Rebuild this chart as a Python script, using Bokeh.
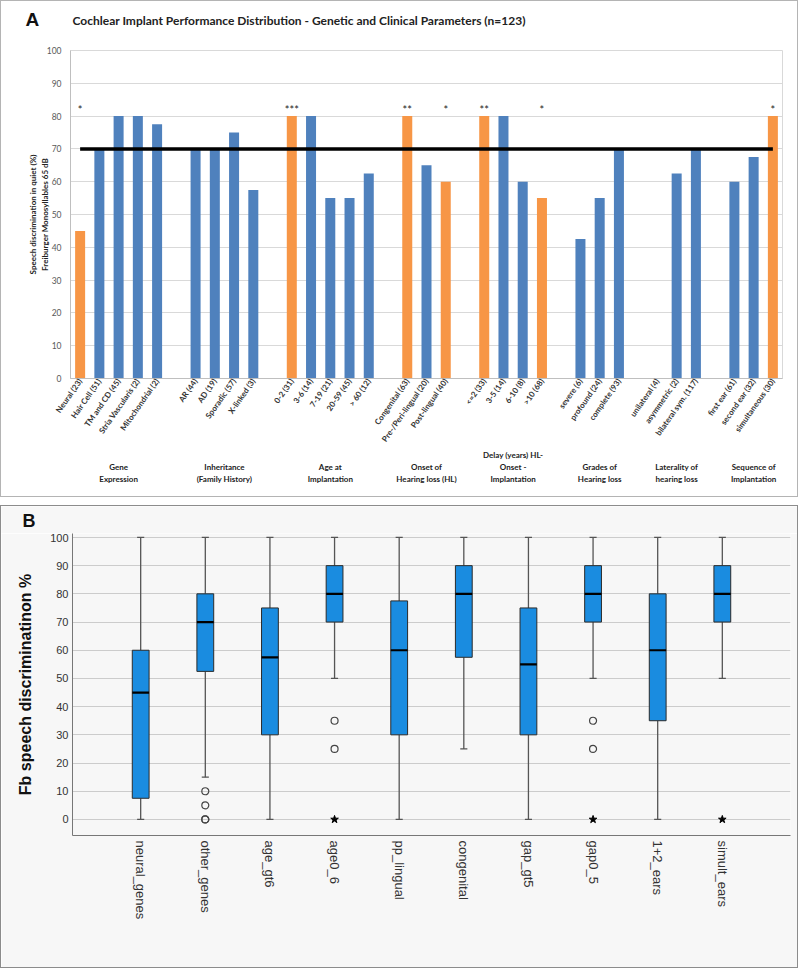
import numpy as np
from bokeh.plotting import figure
from bokeh.models import FactorRange, Range1d, FixedTicker, ColumnDataSource
from bokeh.layouts import column
from bokeh.embed import file_html
from bokeh.resources import INLINE
from bokeh.core.properties import value

# ---------------- Panel A data ----------------
a_groups = ["\nGene\nExpression"] * 5 + ["\nInheritance\n(Family History)"] * 4 + \
    ["\nAge at\nImplantation"] * 5 + ["\nOnset of\nHearing loss (HL)"] * 3 + \
    ["Delay (years) HL-\nOnset -\nImplantation"] * 4 + ["\nGrades of\nHearing loss"] * 3 + \
    ["\nLaterality of\nhearing loss"] * 3 + ["\nSequence of\nImplantation"] * 3
a_labels = ["Neural (23)", "Hair Cell (51)", "TM and CD (45)", "Stria Vascularis (2)", "Mitochondrial (2)",
            "AR (44)", "AD (19)", "Sporadic (57)", "X-linked (3)",
            "0-2 (31)", "3-6 (14)", "7-19 (21)", "20-59 (45)", "> 60 (12)",
            "Congenital (63)", "Pre-/Peri-lingual (20)", "Post-lingual (40)",
            "<=2 (33)", "3-5 (14)", "6-10 (8)", ">10 (68)",
            "severe (6)", "profound (24)", "complete (93)",
            "unilateral (4)", "asymmetric (2)", "bilateral sym. (117)",
            "first ear (61)", "second ear (32)", "simultaneous (30)"]
a_values = [45, 70, 80, 80, 77.5,
            70, 70, 75, 57.5,
            80, 80, 55, 55, 62.5,
            80, 65, 60,
            80, 80, 60, 55,
            42.5, 55, 70,
            0, 62.5, 70,
            60, 67.5, 80]
a_signif = [1, 0, 0, 0, 0,
            0, 0, 0, 0,
            1, 0, 0, 0, 0,
            1, 0, 1,
            1, 0, 0, 1,
            0, 0, 0,
            0, 0, 0,
            0, 0, 1]
a_stars = ["*", "", "", "", "",
           "", "", "", "",
           "***", "", "", "", "",
           "**", "", "*",
           "**", "", "", "*",
           "", "", "",
           "", "", "",
           "", "", "*"]
a_threshold = 70
a_star_level = 82
a_yticks = [0, 10, 20, 30, 40, 50, 60, 70, 80, 90, 100]
a_title = "Cochlear Implant Performance Distribution - Genetic and Clinical Parameters (n=123)"

# ---------------- Panel B data ----------------
b_cats = ["neural_genes", "other_genes", "age_gt6", "age0_6", "pp_lingual",
          "congenital", "gap_gt5", "gap0_5", "1+2_ears", "simult_ears"]
b_upper = [100, 100, 100, 100, 100, 100, 100, 100, 100, 100]
b_q3 = [60, 80, 75, 90, 77.5, 90, 75, 90, 80, 90]
b_median = [45, 70, 57.5, 80, 60, 80, 55, 80, 60, 80]
b_q1 = [7.5, 52.5, 30, 70, 30, 57.5, 30, 70, 35, 70]
b_lower = [0, 15, 0, 50, 0, 25, 0, 50, 0, 50]
b_out_cat = ["other_genes", "other_genes", "other_genes", "other_genes", "age0_6", "age0_6", "gap0_5", "gap0_5"]
b_out_val = [10, 5, 0, 0, 35, 25, 35, 25]
b_ext_cat = ["age0_6", "gap0_5", "simult_ears"]
b_ext_val = [0, 0, 0]
b_yticks = [0, 10, 20, 30, 40, 50, 60, 70, 80, 90, 100]

BLUE = "#4f81bd"
ORANGE = "#f79646"
INNER_W = 796


def header(height, bg):
    h = figure(width=INNER_W, height=height, x_range=Range1d(0, INNER_W), y_range=Range1d(height, 0),
               x_axis_type=None, y_axis_type=None, output_backend="svg", toolbar_location=None,
               min_border=0, frame_align=False)
    h.grid.grid_line_color = None
    h.outline_line_color = None
    h.background_fill_color = bg
    h.border_fill_color = bg
    return h


# ================= Panel A =================
hA = header(39, "white")
hA.text(x=[24], y=[18], text=["A"], text_font=value("Liberation Sans"), text_font_size="19px",
        text_font_style="bold", text_baseline="middle", text_color="#111")
hA.text(x=[71], y=[18.5], text=[a_title], text_font=value("Lato"), text_font_size="12px",
        text_font_style="bold", text_baseline="middle", text_color="#222")

factors = list(zip(a_groups, a_labels))
srcA = ColumnDataSource(dict(
    x=factors, top=a_values,
    color=[ORANGE if s else BLUE for s in a_signif],
    stars=a_stars, sy=[a_star_level] * len(factors),
    ref=[a_threshold] * len(factors)))

pA = figure(x_range=FactorRange(*factors, group_padding=1.0, range_padding=0),
            y_range=Range1d(0, 100), width=INNER_W, height=456,
            output_backend="svg", toolbar_location=None, frame_align=False,
            min_border_left=69, min_border_right=15, min_border_top=10, min_border_bottom=118)
pA.vbar(x="x", top="top", width=0.52, fill_color="color", line_color=None, source=srcA)
pA.line(x="x", y="ref", line_color="black", line_width=3.5, source=srcA)
pA.text(x="x", y="sy", text="stars", text_align="center", text_baseline="middle",
        text_font=value("Lato"), text_font_size="11px", text_color="#222", source=srcA)

pA.outline_line_color = "#d9d9d9"
pA.xgrid.grid_line_color = None
pA.ygrid.grid_line_color = "#d9d9d9"
pA.yaxis.ticker = FixedTicker(ticks=a_yticks)
pA.yaxis.major_tick_line_color = None
pA.yaxis.major_tick_out = 0
pA.yaxis.major_tick_in = 0
pA.yaxis.minor_tick_line_color = None
pA.yaxis.axis_line_color = "#bfbfbf"
pA.yaxis.major_label_standoff = 9
pA.yaxis.major_label_text_font = "Lato"
pA.yaxis.major_label_text_font_size = "8.5px"
pA.yaxis.major_label_text_color = "#595959"
pA.yaxis.axis_label = "Speech discrimination in quiet (%)\nFreiburger Monosyllables 65 dB"
pA.yaxis.axis_label_text_font = "Lato"
pA.yaxis.axis_label_text_font_size = "8px"
pA.yaxis.axis_label_text_font_style = "bold"
pA.yaxis.axis_label_text_color = "#222"
pA.yaxis.axis_label_standoff = -6

ax = pA.xaxis[0]
ax.major_label_orientation = 0.96
ax.major_label_text_font = "Lato"
ax.major_label_text_font_size = "8px"
ax.major_label_text_font_style = "bold"
ax.major_label_text_color = "#333"
ax.major_label_standoff = 1
ax.major_tick_line_color = None
ax.major_tick_out = 0
ax.major_tick_in = 0
ax.axis_line_color = "#bfbfbf"
ax.separator_line_color = None
ax.group_label_orientation = "horizontal"
ax.group_text_font = "Lato"
ax.group_text_font_size = "8px"
ax.group_text_font_style = "bold"
ax.group_text_color = "#222"
ax.group_text_line_height = 1.2

# ================= Panel B =================
hB = header(27, "#f7f7f7")
hB.text(x=[21], y=[14], text=["B"], text_font=value("Liberation Sans"), text_font_size="18px",
        text_font_style="bold", text_baseline="middle", text_color="#111")

pB = figure(x_range=FactorRange(*b_cats, range_padding=0.111),
            y_range=Range1d(-5.7, 101.4), width=INNER_W, height=434,
            output_backend="svg", toolbar_location=None, frame_align=False,
            min_border_left=71, min_border_right=7, min_border_top=0, min_border_bottom=132)
pB.background_fill_color = "#f7f7f7"
pB.border_fill_color = "#f7f7f7"
pB.outline_line_color = None

pB.segment(x0=b_cats, y0=b_q3, x1=b_cats, y1=b_upper, line_color="#555", line_width=1.3)
pB.segment(x0=b_cats, y0=b_q1, x1=b_cats, y1=b_lower, line_color="#555", line_width=1.3)
pB.vbar(x=b_cats, top=b_upper, bottom=b_upper, width=0.11, fill_color=None, line_color="#555", line_width=1.3)
pB.vbar(x=b_cats, top=b_lower, bottom=b_lower, width=0.11, fill_color=None, line_color="#555", line_width=1.3)
pB.vbar(x=b_cats, top=b_q3, bottom=b_q1, width=0.26, fill_color="#1a8ce0", line_color="#2b2b2b", line_width=1)
pB.vbar(x=b_cats, top=b_median, bottom=b_median, width=0.26, fill_color=None, line_color="black", line_width=2.2)
pB.scatter(x=b_out_cat, y=b_out_val, marker="circle", size=7, fill_color=None, line_color="#444", line_width=1.2)
pB.scatter(x=b_ext_cat, y=b_ext_val, marker="star", size=8, fill_color="black", line_color="black")

pB.xgrid.grid_line_color = None
pB.ygrid.grid_line_color = "#cccccc"
pB.ygrid.ticker = FixedTicker(ticks=b_yticks)
pB.yaxis.ticker = FixedTicker(ticks=b_yticks)
pB.yaxis.major_tick_line_color = None
pB.yaxis.major_tick_out = 0
pB.yaxis.major_tick_in = 0
pB.yaxis.minor_tick_line_color = None
pB.yaxis.axis_line_color = "#777"
pB.yaxis.major_label_standoff = 4
pB.yaxis.major_label_text_font = "Liberation Sans"
pB.yaxis.major_label_text_font_size = "11px"
pB.yaxis.major_label_text_color = "#333"
pB.yaxis.axis_label = "Fb speech discriminatinon %"
pB.yaxis.axis_label_text_font = "Liberation Sans"
pB.yaxis.axis_label_text_font_size = "16px"
pB.yaxis.axis_label_text_font_style = "bold"
pB.yaxis.axis_label_text_color = "#111"
pB.yaxis.axis_label_standoff = 13

pB.xaxis.major_label_orientation = -np.pi / 2
pB.xaxis.major_tick_line_color = None
pB.xaxis.major_tick_out = 0
pB.xaxis.major_tick_in = 0
pB.xaxis.axis_line_color = "#777"
pB.xaxis.major_label_standoff = 5
pB.xaxis.major_label_text_font = "Liberation Sans"
pB.xaxis.major_label_text_font_size = "13px"
pB.xaxis.major_label_text_color = "#333"

panelA = column(hA, pA, spacing=0, styles={"border": "1px solid #b4b4b4"})
panelB = column(hB, pB, spacing=0, styles={"border": "1px solid #8c8c8c"})
layout = column(panelA, panelB, spacing=8)
open("out.html", "w").write(file_html(layout, INLINE))
